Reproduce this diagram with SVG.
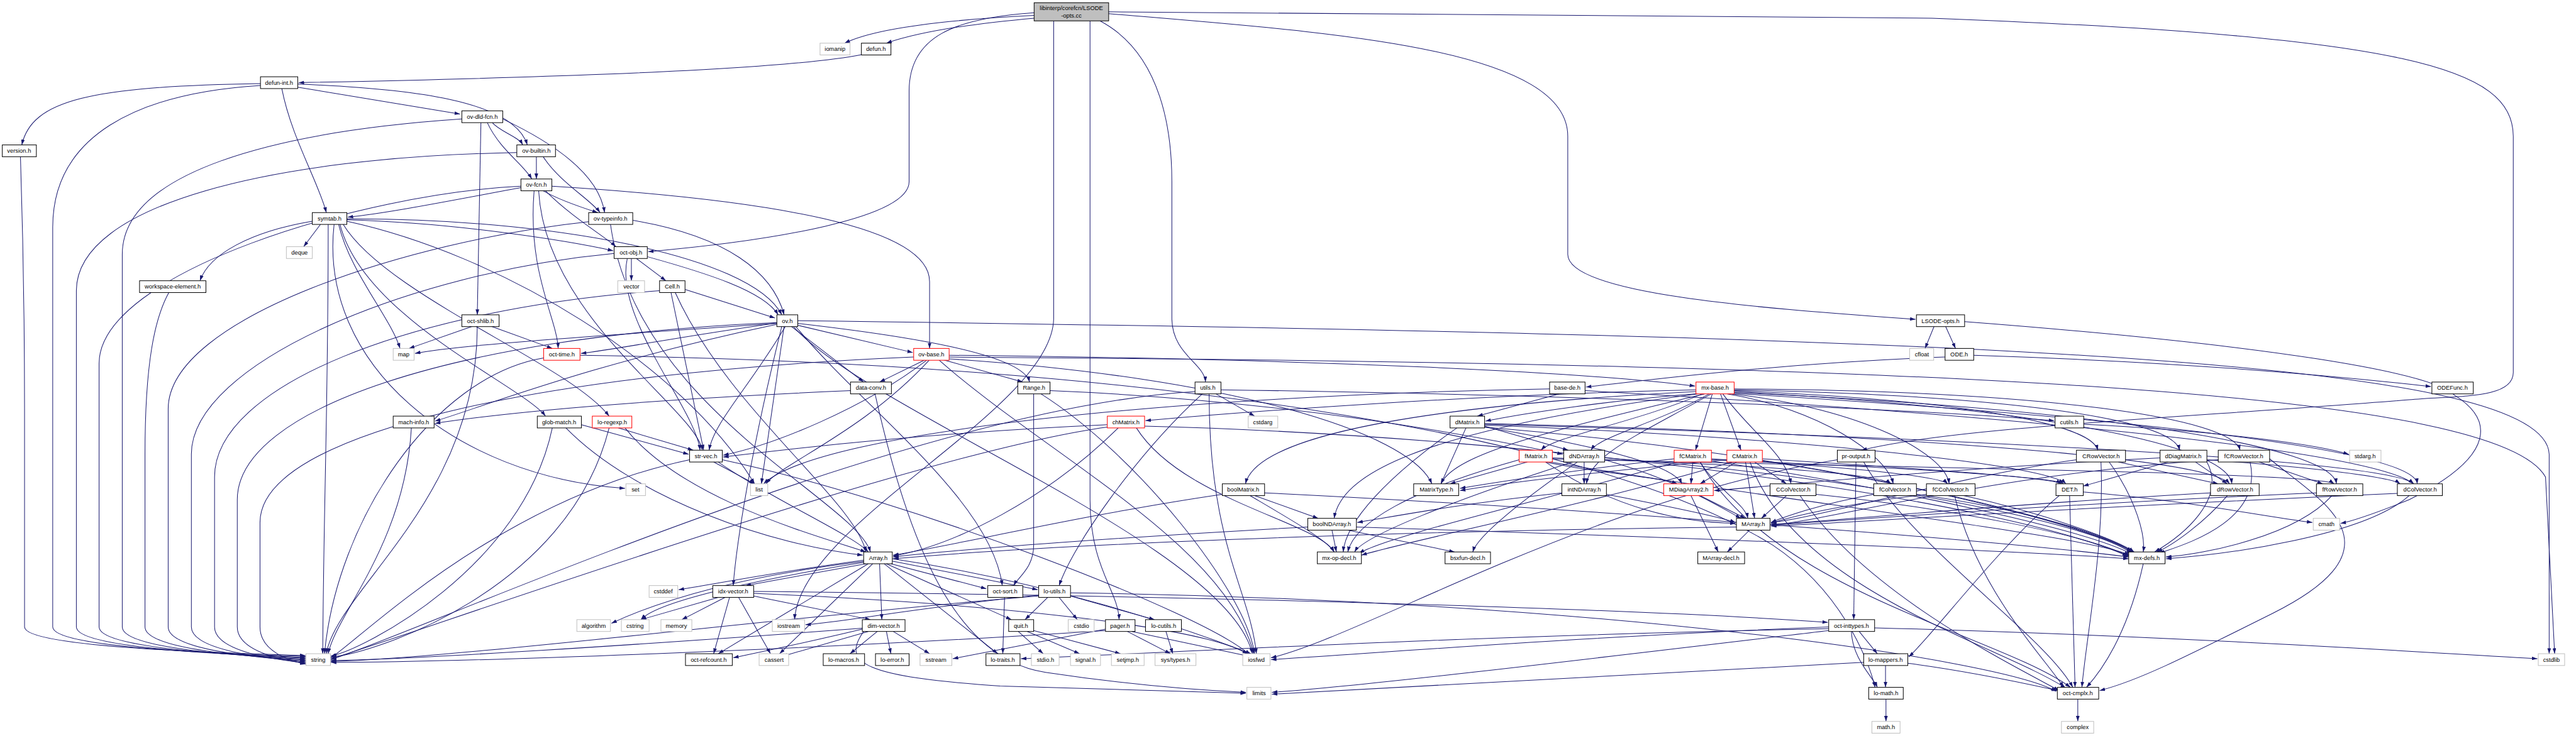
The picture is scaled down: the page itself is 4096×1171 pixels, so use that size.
<svg xmlns="http://www.w3.org/2000/svg" width="4096" height="1171" viewBox="0 0 4096 1171">
<style>
.n rect{fill:#fff;stroke:#000;stroke-width:1.4}
.n.x rect{stroke:#bfbfbf}
.n.r rect{stroke:#ff0000}
.n.g rect{fill:#bfbfbf}
text{font-family:"Liberation Sans",Arial,Helvetica,sans-serif;font-size:13px;text-anchor:middle;fill:#000}
.e path{fill:none;stroke:#191970;stroke-width:1.4;marker-end:url(#a)}
</style>
<defs>
<marker id="a" markerUnits="userSpaceOnUse" markerWidth="12" markerHeight="8" refX="12" refY="4" orient="auto" viewBox="0 0 12 8"><path d="M0,0 L12,4 L0,8 z" fill="#191970"/></marker>
</defs>
<rect width="4096" height="1171" fill="#fff"/>
<g transform="scale(0.72278)">
<g id="edges" class="e">
<path d="M2275,34 Q1950,50 1858,95"/>
<path d="M2275,40 Q2050,60 1950,95"/>
<path d="M2275,28 C2100,40 2000,80 2000,200 L2000,400 C2000,480 1700,530 1426,554"/>
<path d="M2318,46 L2318,700 C2318,900 1760,1150 1748,1364"/>
<path d="M2398,46 L2398,1100 C2398,1250 2460,1300 2462,1364"/>
<path d="M2420,46 C2560,120 2578,300 2578,400 L2578,700 C2578,780 2650,800 2652,841"/>
<path d="M2439,30 C2900,70 3449,100 3449,300 L3449,560 C3449,650 3900,680 4214,703"/>
<path d="M2439,26 L4250,40 C5300,80 5529,150 5529,300 L5529,820 C5529,880 5400,870 5300,880 C4800,920 4300,940 4095,991"/>
<path d="M1897,120 C1700,160 1000,175 657,182"/>
<path d="M573,184 C200,190 70,220 48,319"/>
<path d="M573,188 C300,205 116,300 116,500 L116,1380 C116,1432 600,1442 672,1445"/>
<path d="M620,195 C640,300 700,400 718,468"/>
<path d="M655,192 L1012,251"/>
<path d="M655,185 C900,195 1130,220 1160,319"/>
<path d="M45,345 C50,500 54,700 54,900 L54,1380 C54,1430 600,1440 672,1443"/>
<path d="M1016,262 C600,290 269,380 269,560 L269,1380 C269,1435 610,1447 672,1451"/>
<path d="M1058,270 L1050,693"/>
<path d="M1072,270 C1100,330 1150,360 1170,394"/>
<path d="M1083,270 C1100,290 1140,300 1150,319"/>
<path d="M1106,262 C1250,330 1320,400 1330,468"/>
<path d="M1137,336 C600,345 168,450 168,640 L168,1380 C168,1433 600,1444 672,1447"/>
<path d="M1180,345 L1180,394"/>
<path d="M1195,345 C1230,400 1300,440 1320,468"/>
<path d="M1146,410 C800,425 218,600 218,800 L218,1380 C218,1434 610,1445 672,1449"/>
<path d="M1146,413 C1000,440 850,470 765,478"/>
<path d="M1175,420 C1160,600 1225,700 1228,767"/>
<path d="M1185,420 C1200,700 1530,900 1545,991"/>
<path d="M1195,420 C1230,440 1290,460 1315,468"/>
<path d="M1200,420 C1260,480 1330,520 1355,543"/>
<path d="M1214,410 C1700,440 2045,500 2045,620 L2045,767"/>
<path d="M722,494 C722,900 712,1100 710,1439"/>
<path d="M705,494 L668,543"/>
<path d="M745,494 C770,600 860,700 880,767"/>
<path d="M735,494 C700,800 1000,1050 1375,1075"/>
<path d="M763,487 C1100,560 1500,800 1660,1065"/>
<path d="M748,494 C800,700 1150,850 1200,916"/>
<path d="M755,494 C850,650 1250,800 1340,916"/>
<path d="M763,484 C1000,490 1250,530 1349,552"/>
<path d="M763,482 C1200,480 1650,560 1720,693"/>
<path d="M687,487 C550,510 460,560 440,618"/>
<path d="M1295,488 C900,530 370,700 370,900 L370,1380 C370,1437 620,1451 672,1455"/>
<path d="M1392,485 C1600,520 1700,600 1725,693"/>
<path d="M1343,494 C1400,900 1880,1100 1915,1215"/>
<path d="M372,643 C340,700 319,800 319,1000 L319,1380 C319,1436 620,1449 672,1453"/>
<path d="M1389,569 L1389,618"/>
<path d="M1400,569 L1465,618"/>
<path d="M1424,565 C1550,600 1680,640 1712,693"/>
<path d="M1351,558 C900,600 421,800 421,1000 L421,1380 C421,1438 630,1453 672,1457"/>
<path d="M1380,569 C1350,700 1530,900 1540,991"/>
<path d="M1507,637 L1705,700"/>
<path d="M1476,643 L1548,991"/>
<path d="M1485,643 C1600,900 1880,1100 1905,1215"/>
<path d="M1451,640 C900,680 472,850 472,1050 L472,1380 C472,1438 630,1455 672,1459"/>
<path d="M1040,718 L900,767"/>
<path d="M1080,718 L1215,767"/>
<path d="M1050,718 C1050,1100 740,1300 718,1439"/>
<path d="M1709,710 C1000,740 522,900 522,1100 L522,1380 C522,1438 640,1456 672,1460"/>
<path d="M1725,718 L1675,1065"/>
<path d="M1745,718 C1900,900 2700,1200 2755,1439"/>
<path d="M1709,712 C1300,740 1000,760 913,778"/>
<path d="M1755,712 C2000,740 2250,780 2265,841"/>
<path d="M1740,718 L1900,841"/>
<path d="M1720,718 C1650,1000 1620,1200 1613,1289"/>
<path d="M1709,714 C1300,800 1050,900 957,927"/>
<path d="M1709,711 C1500,740 1350,770 1278,778"/>
<path d="M1728,718 C1650,850 1570,930 1560,991"/>
<path d="M1750,718 C1900,900 2180,1100 2205,1289"/>
<path d="M1755,716 L2008,776"/>
<path d="M1755,706 C4500,740 5600,800 5608,1000 L5608,1439"/>
<path d="M2010,786 C1200,820 572,950 572,1150 L572,1380 C572,1435 640,1455 672,1462"/>
<path d="M2035,792 L1935,841"/>
<path d="M2040,792 C1900,900 1700,980 1591,1002"/>
<path d="M2045,792 C1900,950 1720,1020 1685,1065"/>
<path d="M2075,792 L2250,841"/>
<path d="M2088,782 C2900,790 3500,820 3729,850"/>
<path d="M2088,786 C4400,800 5500,870 5600,1050 L5620,1439"/>
<path d="M2065,792 C2300,1000 2700,1200 2758,1439"/>
<path d="M2088,790 C2700,830 3100,950 3150,1065"/>
<path d="M1196,788 C950,830 740,1150 714,1439"/>
<path d="M1276,782 C2500,800 3500,950 3900,1200 C4050,1300 4110,1450 4125,1513"/>
<path d="M905,942 C890,1200 740,1350 722,1439"/>
<path d="M1215,942 C1150,1250 800,1430 728,1444"/>
<path d="M1245,942 C1400,1100 1700,1200 1898,1222"/>
<path d="M1279,935 L1515,1000"/>
<path d="M1340,942 C1250,1300 820,1440 728,1446"/>
<path d="M1360,942 L1525,991"/>
<path d="M1375,942 C1500,1100 1800,1180 1905,1215"/>
<path d="M1871,860 C1400,880 1100,910 957,932"/>
<path d="M1925,867 C2000,1200 2100,1450 2300,1480 C2500,1510 2650,1520 2741,1524"/>
<path d="M2274,867 L2274,1200 C2274,1250 2240,1270 2230,1289"/>
<path d="M2310,860 C2800,880 3200,950 3438,1000"/>
<path d="M2290,867 C2500,1000 2740,1300 2760,1439"/>
<path d="M2629,862 C2000,900 950,1380 728,1452"/>
<path d="M2675,867 L2760,916"/>
<path d="M2645,867 C2500,1000 2360,1200 2330,1289"/>
<path d="M2660,867 C2660,1200 2750,1300 2764,1439"/>
<path d="M2686,858 C3500,870 4200,900 4519,926"/>
<path d="M2436,935 C2100,950 1800,980 1591,1006"/>
<path d="M2436,940 C2000,1000 900,1400 728,1450"/>
<path d="M2460,942 C2300,1100 2100,1200 1965,1224"/>
<path d="M2518,938 C3400,960 4400,1100 4681,1224"/>
<path d="M2500,942 C2600,1100 2900,1150 2935,1215"/>
<path d="M3731,858 C3200,870 2700,910 2520,926"/>
<path d="M3731,862 C3000,900 2760,980 2740,1065"/>
<path d="M3740,866 C3550,880 3350,910 3268,927"/>
<path d="M3745,867 C3600,930 3420,960 3390,991"/>
<path d="M3760,867 C3650,930 3520,960 3500,991"/>
<path d="M3767,867 L3730,991"/>
<path d="M3785,867 L3830,991"/>
<path d="M3790,867 C3850,950 3930,1000 3940,1065"/>
<path d="M3800,867 C4000,900 4150,1000 4165,1065"/>
<path d="M3810,867 C4100,900 4280,1000 4288,1065"/>
<path d="M3815,860 C4300,880 4600,930 4615,991"/>
<path d="M3815,858 C4400,870 4780,920 4795,991"/>
<path d="M3815,856 C4500,860 4910,920 4928,991"/>
<path d="M3815,862 C4500,900 4900,980 4910,1065"/>
<path d="M3815,864 C4600,900 5130,980 5140,1065"/>
<path d="M3815,866 C4700,920 5310,990 5318,1065"/>
<path d="M3735,867 C3100,950 2950,1050 2935,1141"/>
<path d="M3750,867 C3400,950 3200,1000 3170,1065"/>
<path d="M3765,867 C3600,960 3500,1000 3490,1065"/>
<path d="M3430,867 L3250,916"/>
<path d="M3487,860 C4200,900 5200,980 5310,1065"/>
<path d="M3409,856 C2600,870 1800,950 1680,1065"/>
<path d="M4255,718 L4235,767"/>
<path d="M4280,718 L4302,767"/>
<path d="M4322,708 C5000,760 5350,820 5400,870 C5480,920 5500,1000 5300,1100 C5200,1140 5160,1150 5149,1152"/>
<path d="M4279,786 C3900,800 3600,840 3489,852"/>
<path d="M4342,782 C4900,800 5250,840 5348,851"/>
<path d="M3225,942 L3170,1065"/>
<path d="M3266,938 L3450,991"/>
<path d="M3266,940 C3500,980 3680,1020 3700,1065"/>
<path d="M3205,942 C3050,1050 2960,1150 2955,1215"/>
<path d="M3266,932 C4000,950 4850,1000 4905,1065"/>
<path d="M3266,934 C4200,960 5250,1010 5310,1065"/>
<path d="M3266,936 C3900,960 4500,1020 4545,1065"/>
<path d="M3266,940 C4000,1000 4600,1150 4690,1215"/>
<path d="M3360,1017 L3190,1065"/>
<path d="M3400,1017 C3500,1040 3650,1050 3690,1065"/>
<path d="M3342,1012 C3100,1080 2980,1150 2965,1215"/>
<path d="M3415,1010 C4200,1030 5100,1040 5135,1065"/>
<path d="M3415,1008 C3800,1020 4130,1040 4160,1065"/>
<path d="M3410,1017 C3900,1100 4600,1180 4685,1222"/>
<path d="M3400,1017 C3550,1120 3700,1150 3818,1152"/>
<path d="M3485,1017 L3485,1065"/>
<path d="M3530,1012 C3700,1060 3790,1120 3830,1141"/>
<path d="M3460,1017 C3200,1100 3000,1180 2980,1215"/>
<path d="M3470,1017 C3350,1100 3250,1180 3240,1215"/>
<path d="M3530,1008 C4100,1050 4600,1150 4690,1218"/>
<path d="M3683,1010 C3500,1030 3300,1060 3212,1075"/>
<path d="M3724,1017 L3720,1065"/>
<path d="M3740,1017 C3780,1080 3840,1110 3845,1141"/>
<path d="M3690,1017 C3400,1100 3050,1180 2990,1218"/>
<path d="M3765,1010 C4100,1030 4270,1050 4285,1065"/>
<path d="M3765,1012 C4200,1030 4520,1050 4540,1065"/>
<path d="M3740,1017 C3900,1300 4400,1400 4555,1513"/>
<path d="M3765,1015 C4200,1080 4600,1170 4690,1220"/>
<path d="M3799,1012 C3500,1040 3300,1065 3212,1080"/>
<path d="M3820,1017 L3740,1065"/>
<path d="M3840,1017 L3860,1141"/>
<path d="M3810,1017 C3500,1110 3100,1190 2995,1222"/>
<path d="M3860,1017 L3930,1065"/>
<path d="M3877,1010 C4200,1030 4510,1050 4535,1065"/>
<path d="M3850,1017 C3950,1300 4400,1420 4545,1515"/>
<path d="M3877,1014 C4300,1080 4620,1170 4695,1216"/>
<path d="M4083,1017 L4078,1364"/>
<path d="M4042,1012 C3500,1100 3000,1400 2796,1448"/>
<path d="M4100,1017 C4200,1200 4500,1400 4560,1513"/>
<path d="M4660,1017 L4880,1065"/>
<path d="M4568,1012 C4300,1050 4000,1140 3896,1150"/>
<path d="M4640,1017 C4700,1100 4720,1180 4715,1215"/>
<path d="M4622,1017 C4630,1200 4590,1400 4580,1513"/>
<path d="M4752,1008 C4300,1030 3900,1070 3771,1080"/>
<path d="M4770,1017 L4583,1070"/>
<path d="M4830,1017 L4900,1065"/>
<path d="M4855,1012 C5100,1030 5260,1050 5280,1065"/>
<path d="M4855,1017 C4900,1100 4800,1180 4740,1215"/>
<path d="M4970,1017 L5110,1065"/>
<path d="M4880,1012 C4400,1040 4000,1150 3896,1156"/>
<path d="M4950,1017 C4980,1150 4800,1200 4750,1218"/>
<path d="M4993,1010 C5100,1100 5300,1200 5000,1350 C4800,1450 4700,1500 4619,1520"/>
<path d="M4584,934 C4900,950 5100,980 5167,1000"/>
<path d="M4553,1091 L4565,1513"/>
<path d="M4583,1083 C4800,1100 5000,1140 5087,1150"/>
<path d="M4530,1091 C4400,1200 4250,1400 4199,1446"/>
<path d="M4863,1085 C4400,1110 4000,1150 3896,1154"/>
<path d="M4900,1091 C4850,1150 4780,1200 4745,1215"/>
<path d="M5096,1085 C4500,1110 4000,1150 3896,1156"/>
<path d="M5130,1091 C5050,1180 4850,1220 4765,1226"/>
<path d="M5274,1086 C4500,1120 4000,1155 3896,1158"/>
<path d="M5300,1091 C5200,1180 4900,1220 4765,1230"/>
<path d="M3930,1091 L3875,1141"/>
<path d="M3995,1088 C4300,1120 4600,1180 4685,1225"/>
<path d="M3960,1091 C4100,1300 4400,1450 4530,1520"/>
<path d="M4122,1088 C4000,1110 3920,1140 3896,1150"/>
<path d="M4216,1088 C4450,1120 4650,1180 4690,1215"/>
<path d="M4238,1088 C4050,1110 3930,1140 3896,1152"/>
<path d="M4320,1091 C4500,1130 4660,1190 4695,1215"/>
<path d="M4300,1091 C4350,1300 4500,1450 4540,1513"/>
<path d="M3740,1091 L3840,1141"/>
<path d="M3720,1091 L3780,1215"/>
<path d="M3436,1085 C3200,1110 3050,1140 2986,1150"/>
<path d="M3534,1088 C3700,1120 3790,1140 3818,1150"/>
<path d="M2689,1088 C2400,1130 2100,1200 1965,1222"/>
<path d="M2760,1091 L2900,1141"/>
<path d="M2750,1091 C2850,1150 2920,1190 2935,1215"/>
<path d="M2782,1085 C3500,1120 4400,1190 4683,1226"/>
<path d="M2930,1166 L2940,1215"/>
<path d="M2960,1166 L3200,1215"/>
<path d="M2984,1160 C3600,1180 4400,1210 4683,1230"/>
<path d="M2877,1160 C2500,1180 2100,1210 1965,1226"/>
<path d="M3820,1160 C3000,1170 2300,1200 1965,1230"/>
<path d="M3850,1166 L3800,1215"/>
<path d="M4715,1241 C4680,1400 4620,1480 4590,1513"/>
<path d="M1900,1233 C1700,1260 1550,1290 1493,1298"/>
<path d="M1905,1241 L1640,1289"/>
<path d="M1900,1236 C1700,1260 1500,1300 1345,1372"/>
<path d="M1900,1238 C1700,1270 1450,1320 1410,1364"/>
<path d="M1920,1241 L1715,1439"/>
<path d="M1910,1241 L1580,1439"/>
<path d="M1935,1241 L1940,1364"/>
<path d="M1945,1241 L2195,1439"/>
<path d="M1950,1241 L2225,1364"/>
<path d="M1960,1241 L2170,1296"/>
<path d="M1963,1235 L2283,1298"/>
<path d="M1963,1230 C2300,1280 2600,1380 2752,1439"/>
<path d="M1625,1315 L1695,1439"/>
<path d="M1580,1315 L1410,1364"/>
<path d="M1595,1315 L1500,1364"/>
<path d="M1658,1312 L1915,1364"/>
<path d="M1658,1302 C2600,1310 3600,1340 4021,1370"/>
<path d="M1605,1315 L1570,1439"/>
<path d="M1658,1306 C2200,1330 2650,1380 2745,1440"/>
<path d="M2210,1315 L2206,1439"/>
<path d="M2305,1315 L2255,1364"/>
<path d="M2330,1315 L2370,1364"/>
<path d="M2355,1312 L2540,1364"/>
<path d="M2285,1310 C2000,1340 1850,1370 1772,1375"/>
<path d="M2285,1312 C1800,1350 1000,1450 728,1456"/>
<path d="M2355,1305 C3500,1320 4400,1450 4524,1522"/>
<path d="M2240,1390 L2295,1439"/>
<path d="M2260,1390 L2375,1439"/>
<path d="M2274,1388 L2465,1439"/>
<path d="M2490,1390 L2750,1445"/>
<path d="M2432,1385 L2096,1450"/>
<path d="M2432,1388 C1800,1430 1000,1458 728,1458"/>
<path d="M2480,1390 L2575,1439"/>
<path d="M2565,1390 L2580,1439"/>
<path d="M1910,1390 L1720,1445"/>
<path d="M1930,1390 L1870,1439"/>
<path d="M1950,1390 L1960,1439"/>
<path d="M1965,1390 L2045,1439"/>
<path d="M1897,1385 C1750,1420 1650,1440 1613,1448"/>
<path d="M1897,1383 C1400,1420 900,1452 728,1454"/>
<path d="M1900,1390 C1850,1460 1900,1490 2200,1510 C2500,1520 2700,1525 2741,1526"/>
<path d="M4090,1390 L4130,1439"/>
<path d="M4073,1390 C4075,1450 4120,1490 4130,1513"/>
<path d="M4023,1388 C3500,1450 3000,1510 2798,1524"/>
<path d="M4023,1380 C3500,1400 3000,1440 2796,1452"/>
<path d="M4023,1384 C3200,1400 2500,1440 2246,1450"/>
<path d="M4124,1382 C4800,1400 5400,1440 5582,1450"/>
<path d="M4148,1465 L4148,1513"/>
<path d="M4100,1458 C3500,1490 3000,1515 2798,1528"/>
<path d="M4197,1460 C4350,1480 4480,1510 4526,1520"/>
<path d="M4149,1539 L4149,1588"/>
<path d="M4571,1539 L4571,1588"/>
<path d="M1517,1012 C1100,1100 800,1400 728,1448"/>
<path d="M1570,1017 L1660,1065"/>
<path d="M1580,1017 C1700,1100 1880,1180 1910,1215"/>
<path d="M1589,1012 C2000,1100 2650,1350 2750,1442"/>
</g>
<g id="nodes">
<g id="n-root" class="n g"><rect x="2275" y="6" width="164" height="40"/><text x="2357" y="22">libinterp/corefcn/LSODE</text><text x="2357" y="39">-opts.cc</text></g>
<g id="n-iomanip" class="n x"><rect x="1804" y="95" width="66" height="26"/><text x="1837" y="112.5">iomanip</text></g>
<g id="n-defun" class="n"><rect x="1895" y="95" width="65" height="26"/><text x="1927" y="112.5">defun.h</text></g>
<g id="n-defunint" class="n"><rect x="573" y="169" width="82" height="26"/><text x="614" y="186.5">defun-int.h</text></g>
<g id="n-ovdld" class="n"><rect x="1016" y="244" width="90" height="26"/><text x="1061" y="261.5">ov-dld-fcn.h</text></g>
<g id="n-version" class="n"><rect x="5" y="319" width="75" height="26"/><text x="42" y="336.5">version.h</text></g>
<g id="n-ovbuiltin" class="n"><rect x="1137" y="319" width="85" height="26"/><text x="1180" y="336.5">ov-builtin.h</text></g>
<g id="n-ovfcn" class="n"><rect x="1146" y="394" width="68" height="26"/><text x="1180" y="411.5">ov-fcn.h</text></g>
<g id="n-symtab" class="n"><rect x="687" y="468" width="76" height="26"/><text x="725" y="485.5">symtab.h</text></g>
<g id="n-ovtypeinfo" class="n"><rect x="1295" y="468" width="97" height="26"/><text x="1343" y="485.5">ov-typeinfo.h</text></g>
<g id="n-deque" class="n x"><rect x="630" y="543" width="57" height="26"/><text x="659" y="560.5">deque</text></g>
<g id="n-octobj" class="n"><rect x="1351" y="543" width="73" height="26"/><text x="1388" y="560.5">oct-obj.h</text></g>
<g id="n-wse" class="n"><rect x="307" y="618" width="146" height="26"/><text x="380" y="635.5">workspace-element.h</text></g>
<g id="n-vector" class="n x"><rect x="1359" y="618" width="59" height="26"/><text x="1389" y="635.5">vector</text></g>
<g id="n-cell" class="n"><rect x="1451" y="618" width="56" height="26"/><text x="1479" y="635.5">Cell.h</text></g>
<g id="n-octshlib" class="n"><rect x="1016" y="693" width="82" height="26"/><text x="1057" y="710.5">oct-shlib.h</text></g>
<g id="n-ov" class="n"><rect x="1709" y="693" width="46" height="26"/><text x="1732" y="710.5">ov.h</text></g>
<g id="n-lsodeopts" class="n"><rect x="4216" y="693" width="106" height="26"/><text x="4269" y="710.5">LSODE-opts.h</text></g>
<g id="n-map" class="n x"><rect x="865" y="767" width="46" height="26"/><text x="888" y="784.5">map</text></g>
<g id="n-octtime" class="n r"><rect x="1196" y="767" width="80" height="26"/><text x="1236" y="784.5">oct-time.h</text></g>
<g id="n-ovbase" class="n r"><rect x="2010" y="767" width="78" height="26"/><text x="2049" y="784.5">ov-base.h</text></g>
<g id="n-cfloat" class="n x"><rect x="4201" y="767" width="53" height="26"/><text x="4228" y="784.5">cfloat</text></g>
<g id="n-ode" class="n"><rect x="4279" y="767" width="63" height="26"/><text x="4310" y="784.5">ODE.h</text></g>
<g id="n-dataconv" class="n"><rect x="1871" y="841" width="90" height="26"/><text x="1916" y="858.5">data-conv.h</text></g>
<g id="n-range" class="n"><rect x="2239" y="841" width="71" height="26"/><text x="2275" y="858.5">Range.h</text></g>
<g id="n-utils" class="n"><rect x="2629" y="841" width="57" height="26"/><text x="2657" y="858.5">utils.h</text></g>
<g id="n-basede" class="n"><rect x="3409" y="841" width="78" height="26"/><text x="3448" y="858.5">base-de.h</text></g>
<g id="n-mxbase" class="n r"><rect x="3731" y="841" width="84" height="26"/><text x="3773" y="858.5">mx-base.h</text></g>
<g id="n-odefunc" class="n"><rect x="5350" y="841" width="91" height="26"/><text x="5395" y="858.5">ODEFunc.h</text></g>
<g id="n-machinfo" class="n"><rect x="865" y="916" width="90" height="26"/><text x="910" y="933.5">mach-info.h</text></g>
<g id="n-globmatch" class="n"><rect x="1182" y="916" width="97" height="26"/><text x="1230" y="933.5">glob-match.h</text></g>
<g id="n-loregexp" class="n r"><rect x="1303" y="916" width="87" height="26"/><text x="1347" y="933.5">lo-regexp.h</text></g>
<g id="n-chmatrix" class="n r"><rect x="2436" y="916" width="82" height="26"/><text x="2477" y="933.5">chMatrix.h</text></g>
<g id="n-cstdarg" class="n x"><rect x="2746" y="916" width="65" height="26"/><text x="2778" y="933.5">cstdarg</text></g>
<g id="n-dmatrix" class="n"><rect x="3190" y="916" width="76" height="26"/><text x="3228" y="933.5">dMatrix.h</text></g>
<g id="n-cutils" class="n"><rect x="4521" y="916" width="63" height="26"/><text x="4552" y="933.5">cutils.h</text></g>
<g id="n-strvec" class="n"><rect x="1517" y="991" width="72" height="26"/><text x="1553" y="1008.5">str-vec.h</text></g>
<g id="n-fmatrix" class="n r"><rect x="3342" y="991" width="73" height="26"/><text x="3379" y="1008.5">fMatrix.h</text></g>
<g id="n-dndarray" class="n"><rect x="3440" y="991" width="90" height="26"/><text x="3485" y="1008.5">dNDArray.h</text></g>
<g id="n-fcmatrix" class="n r"><rect x="3683" y="991" width="82" height="26"/><text x="3724" y="1008.5">fCMatrix.h</text></g>
<g id="n-cmatrix" class="n r"><rect x="3799" y="991" width="78" height="26"/><text x="3838" y="1008.5">CMatrix.h</text></g>
<g id="n-proutput" class="n"><rect x="4042" y="991" width="83" height="26"/><text x="4083" y="1008.5">pr-output.h</text></g>
<g id="n-crowvector" class="n"><rect x="4568" y="991" width="108" height="26"/><text x="4622" y="1008.5">CRowVector.h</text></g>
<g id="n-ddiagmatrix" class="n"><rect x="4752" y="991" width="103" height="26"/><text x="4803" y="1008.5">dDiagMatrix.h</text></g>
<g id="n-fcrowvector" class="n"><rect x="4880" y="991" width="113" height="26"/><text x="4936" y="1008.5">fCRowVector.h</text></g>
<g id="n-stdargh" class="n x"><rect x="5169" y="991" width="69" height="26"/><text x="5203" y="1008.5">stdarg.h</text></g>
<g id="n-set" class="n x"><rect x="1377" y="1065" width="43" height="26"/><text x="1398" y="1082.5">set</text></g>
<g id="n-list" class="n x"><rect x="1651" y="1065" width="38" height="26"/><text x="1670" y="1082.5">list</text></g>
<g id="n-boolmatrix" class="n"><rect x="2689" y="1065" width="93" height="26"/><text x="2735" y="1082.5">boolMatrix.h</text></g>
<g id="n-matrixtype" class="n"><rect x="3110" y="1065" width="99" height="26"/><text x="3160" y="1082.5">MatrixType.h</text></g>
<g id="n-intndarray" class="n"><rect x="3436" y="1065" width="98" height="26"/><text x="3485" y="1082.5">intNDArray.h</text></g>
<g id="n-mdiagarray2" class="n r"><rect x="3660" y="1065" width="109" height="26"/><text x="3715" y="1082.5">MDiagArray2.h</text></g>
<g id="n-ccolvector" class="n"><rect x="3894" y="1065" width="101" height="26"/><text x="3945" y="1082.5">CColVector.h</text></g>
<g id="n-fcolvector" class="n"><rect x="4122" y="1065" width="94" height="26"/><text x="4169" y="1082.5">fColVector.h</text></g>
<g id="n-fccolvector" class="n"><rect x="4238" y="1065" width="107" height="26"/><text x="4291" y="1082.5">fCColVector.h</text></g>
<g id="n-det" class="n"><rect x="4523" y="1065" width="60" height="26"/><text x="4553" y="1082.5">DET.h</text></g>
<g id="n-drowvector" class="n"><rect x="4863" y="1065" width="107" height="26"/><text x="4917" y="1082.5">dRowVector.h</text></g>
<g id="n-frowvector" class="n"><rect x="5096" y="1065" width="102" height="26"/><text x="5147" y="1082.5">fRowVector.h</text></g>
<g id="n-dcolvector" class="n"><rect x="5274" y="1065" width="99" height="26"/><text x="5324" y="1082.5">dColVector.h</text></g>
<g id="n-boolndarray" class="n"><rect x="2877" y="1141" width="107" height="26"/><text x="2930" y="1158.5">boolNDArray.h</text></g>
<g id="n-marray" class="n"><rect x="3820" y="1141" width="74" height="26"/><text x="3857" y="1158.5">MArray.h</text></g>
<g id="n-cmath" class="n x"><rect x="5089" y="1141" width="58" height="26"/><text x="5118" y="1158.5">cmath</text></g>
<g id="n-array" class="n"><rect x="1900" y="1215" width="63" height="26"/><text x="1932" y="1232.5">Array.h</text></g>
<g id="n-mxopdecl" class="n"><rect x="2898" y="1215" width="97" height="26"/><text x="2946" y="1232.5">mx-op-decl.h</text></g>
<g id="n-bsxfundecl" class="n"><rect x="3179" y="1215" width="100" height="26"/><text x="3229" y="1232.5">bsxfun-decl.h</text></g>
<g id="n-marraydecl" class="n"><rect x="3735" y="1215" width="103" height="26"/><text x="3786" y="1232.5">MArray-decl.h</text></g>
<g id="n-mxdefs" class="n"><rect x="4683" y="1215" width="80" height="26"/><text x="4723" y="1232.5">mx-defs.h</text></g>
<g id="n-cstddef" class="n x"><rect x="1428" y="1289" width="63" height="26"/><text x="1459" y="1306.5">cstddef</text></g>
<g id="n-idxvector" class="n"><rect x="1568" y="1289" width="90" height="26"/><text x="1613" y="1306.5">idx-vector.h</text></g>
<g id="n-octsort" class="n"><rect x="2173" y="1289" width="77" height="26"/><text x="2211" y="1306.5">oct-sort.h</text></g>
<g id="n-loutils" class="n"><rect x="2285" y="1289" width="70" height="26"/><text x="2320" y="1306.5">lo-utils.h</text></g>
<g id="n-algorithm" class="n x"><rect x="1269" y="1364" width="74" height="26"/><text x="1306" y="1381.5">algorithm</text></g>
<g id="n-cstring" class="n x"><rect x="1367" y="1364" width="61" height="26"/><text x="1397" y="1381.5">cstring</text></g>
<g id="n-memory" class="n x"><rect x="1454" y="1364" width="68" height="26"/><text x="1488" y="1381.5">memory</text></g>
<g id="n-iostream" class="n x"><rect x="1699" y="1364" width="71" height="26"/><text x="1735" y="1381.5">iostream</text></g>
<g id="n-dimvector" class="n"><rect x="1897" y="1364" width="94" height="26"/><text x="1944" y="1381.5">dim-vector.h</text></g>
<g id="n-quit" class="n"><rect x="2219" y="1364" width="55" height="26"/><text x="2246" y="1381.5">quit.h</text></g>
<g id="n-cstdio" class="n x"><rect x="2350" y="1364" width="57" height="26"/><text x="2379" y="1381.5">cstdio</text></g>
<g id="n-pager" class="n"><rect x="2432" y="1364" width="65" height="26"/><text x="2464" y="1381.5">pager.h</text></g>
<g id="n-locutils" class="n"><rect x="2520" y="1364" width="79" height="26"/><text x="2560" y="1381.5">lo-cutils.h</text></g>
<g id="n-octinttypes" class="n"><rect x="4023" y="1364" width="101" height="26"/><text x="4073" y="1381.5">oct-inttypes.h</text></g>
<g id="n-string" class="n x"><rect x="673" y="1439" width="54" height="26"/><text x="700" y="1456.5">string</text></g>
<g id="n-octrefcount" class="n"><rect x="1508" y="1439" width="103" height="26"/><text x="1559" y="1456.5">oct-refcount.h</text></g>
<g id="n-cassert" class="n x"><rect x="1670" y="1439" width="65" height="26"/><text x="1703" y="1456.5">cassert</text></g>
<g id="n-lomacros" class="n"><rect x="1811" y="1439" width="91" height="26"/><text x="1856" y="1456.5">lo-macros.h</text></g>
<g id="n-loerror" class="n"><rect x="1926" y="1439" width="74" height="26"/><text x="1963" y="1456.5">lo-error.h</text></g>
<g id="n-sstream" class="n x"><rect x="2024" y="1439" width="70" height="26"/><text x="2059" y="1456.5">sstream</text></g>
<g id="n-lotraits" class="n"><rect x="2169" y="1439" width="75" height="26"/><text x="2206" y="1456.5">lo-traits.h</text></g>
<g id="n-stdioh" class="n x"><rect x="2269" y="1439" width="61" height="26"/><text x="2300" y="1456.5">stdio.h</text></g>
<g id="n-signalh" class="n x"><rect x="2355" y="1439" width="66" height="26"/><text x="2388" y="1456.5">signal.h</text></g>
<g id="n-setjmph" class="n x"><rect x="2445" y="1439" width="72" height="26"/><text x="2481" y="1456.5">setjmp.h</text></g>
<g id="n-systypes" class="n x"><rect x="2541" y="1439" width="90" height="26"/><text x="2586" y="1456.5">sys/types.h</text></g>
<g id="n-iosfwd" class="n x"><rect x="2734" y="1439" width="60" height="26"/><text x="2764" y="1456.5">iosfwd</text></g>
<g id="n-lomappers" class="n"><rect x="4100" y="1439" width="97" height="26"/><text x="4148" y="1456.5">lo-mappers.h</text></g>
<g id="n-cstdlib" class="n x"><rect x="5584" y="1439" width="58" height="26"/><text x="5613" y="1456.5">cstdlib</text></g>
<g id="n-limits" class="n x"><rect x="2743" y="1513" width="53" height="26"/><text x="2770" y="1530.5">limits</text></g>
<g id="n-lomath" class="n"><rect x="4111" y="1513" width="76" height="26"/><text x="4149" y="1530.5">lo-math.h</text></g>
<g id="n-octcmplx" class="n"><rect x="4526" y="1513" width="91" height="26"/><text x="4571" y="1530.5">oct-cmplx.h</text></g>
<g id="n-mathh" class="n x"><rect x="4118" y="1588" width="62" height="26"/><text x="4149" y="1605.5">math.h</text></g>
<g id="n-complex" class="n x"><rect x="4535" y="1588" width="71" height="26"/><text x="4571" y="1605.5">complex</text></g>
</g>
</g>
</svg>
